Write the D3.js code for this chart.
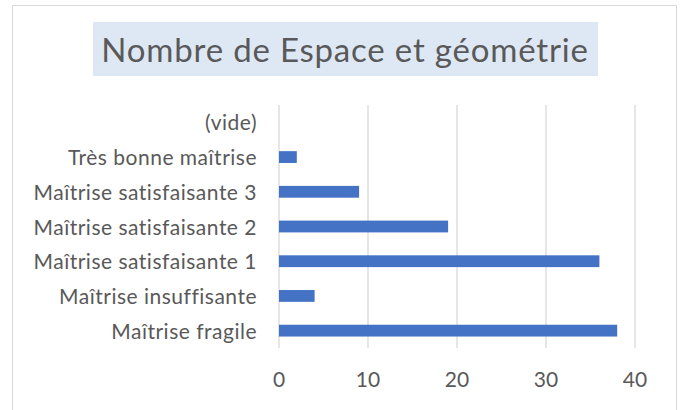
<!DOCTYPE html>
<html>
<head>
<meta charset="utf-8">
<script src="https://cdn.jsdelivr.net/npm/d3@7"></script>
<style>
  body { margin: 0; background: #fff; }
  text { font-family: Lato, "Noto Sans", sans-serif; fill: #595959; }
</style>
</head>
<body>
<div id="container"></div>
<script>
/* DATA */
const categories = ["(vide)", "Très bonne maîtrise", "Maîtrise satisfaisante 3", "Maîtrise satisfaisante 2",
  "Maîtrise satisfaisante 1", "Maîtrise insuffisante", "Maîtrise fragile"];
const values = [null, 2, 9, 19, 36, 4, 38];
const xTicks = [0, 10, 20, 30, 40];
const title = "Nombre de Espace et géométrie";

/* CONSTANTS */
const width = 684, height = 410;
const margin = { top: 105, bottom: 62, left: 279, right: 50 };

const svg = d3.select("#container")
  .append("svg")
  .attr("width", width)
  .attr("height", height);

// chart frame
svg.append("rect")
  .attr("x", 12.5).attr("y", 5.5)
  .attr("width", 664).attr("height", 430)
  .attr("fill", "#fff")
  .attr("stroke", "#d9d9d9");

// title box + title
svg.append("rect")
  .attr("x", 93).attr("y", 22)
  .attr("width", 505).attr("height", 54)
  .attr("fill", "#dee8f4");

svg.append("text")
  .attr("x", 345).attr("y", 62)
  .attr("text-anchor", "middle")
  .style("font-size", "33px")
  .style("letter-spacing", "0.8px")
  .text(title);

// SCALES
const x = d3.scaleLinear()
  .domain([0, 40])
  .range([margin.left, 635]);

const y = d3.scaleBand()
  .domain(categories)
  .range([margin.top, 348])
  .paddingInner(0.66)
  .paddingOuter(0.33);

// GRIDLINES
svg.append("g")
  .selectAll("line")
  .data(xTicks)
  .join("line")
  .attr("x1", d => x(d)).attr("x2", d => x(d))
  .attr("y1", margin.top).attr("y2", 348)
  .attr("stroke", "#d9d9d9")
  .attr("stroke-width", 1.3);

// X AXIS LABELS
svg.append("g")
  .selectAll("text")
  .data(xTicks)
  .join("text")
  .attr("x", d => x(d))
  .attr("y", 387)
  .attr("text-anchor", "middle")
  .style("font-size", "21px")
  .text(d => d);

// CATEGORY LABELS
svg.append("g")
  .selectAll("text")
  .data(categories)
  .join("text")
  .attr("x", 257)
  .attr("y", d => y(d) + y.bandwidth() / 2 + 8)
  .attr("text-anchor", "end")
  .style("font-size", "21px")
  .style("letter-spacing", "0.5px")
  .text(d => d);

// BARS
svg.append("g")
  .selectAll("rect")
  .data(categories.map((c, i) => ({ cat: c, val: values[i] })).filter(d => d.val != null))
  .join("rect")
  .attr("x", x(0))
  .attr("y", d => y(d.cat))
  .attr("width", d => x(d.val) - x(0))
  .attr("height", y.bandwidth())
  .attr("fill", "#4472c4");
</script>
</body>
</html>
